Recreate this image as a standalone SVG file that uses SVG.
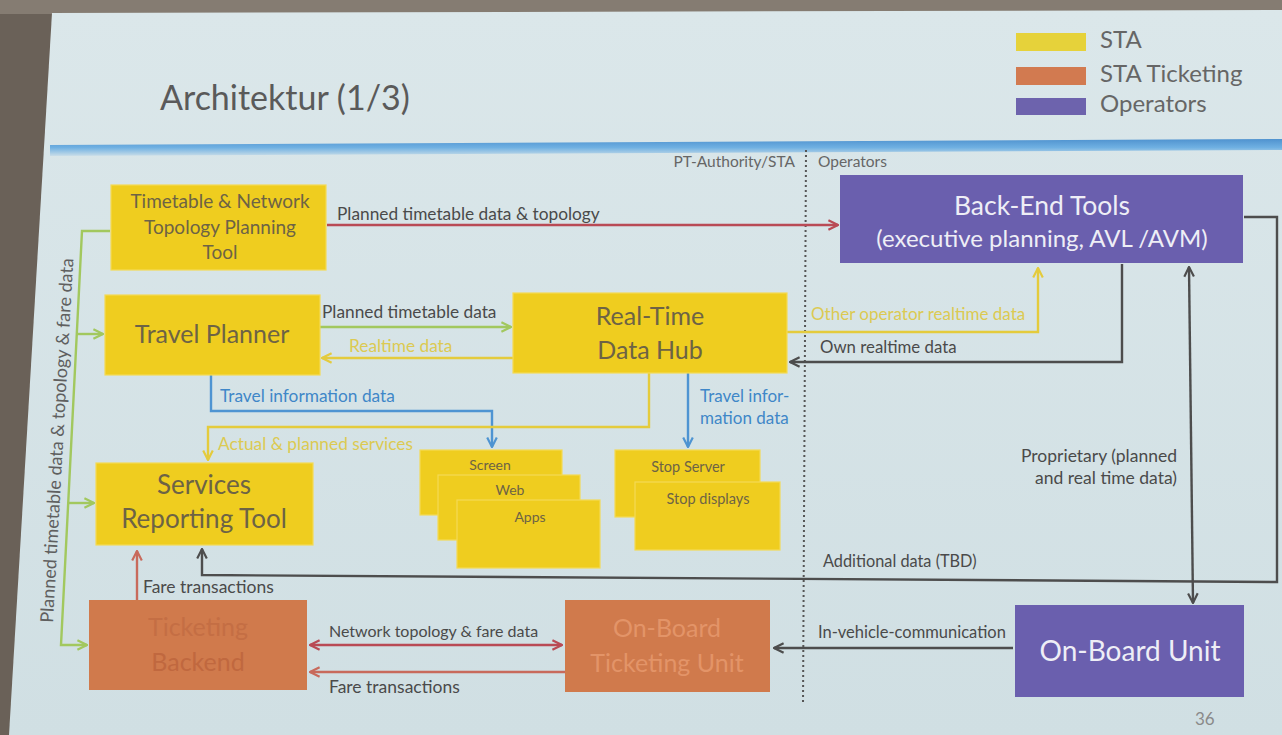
<svg xmlns="http://www.w3.org/2000/svg" width="1282" height="735" viewBox="0 0 1282 735">
<style>
  text { font-family: Lato, "Open Sans", "Liberation Sans", sans-serif; }
  .y { fill: #efcd1f; stroke: #f4da55; stroke-width: 1.2; }
  .o { fill: #d07a4c; }
  .p { fill: #6a5fae; }
  .ty { fill: #6d6345; text-anchor: middle; }
  .tp { fill: #eeeef6; text-anchor: middle; }
  .lbl { font-size: 17.3px; fill: #4a4a4a; }
  .ln { fill: none; stroke-width: 2.4; }
  .red { stroke: #b94a55; }
  .grn { stroke: #a2c85e; }
  .yel { stroke: #e4cb3c; }
  .blu { stroke: #4e94d2; }
  .drk { stroke: #4d4d4d; }
  .sal { stroke: #c86a5c; }
</style>
<defs>
  <linearGradient id="bg" x1="0" y1="0" x2="0" y2="1">
    <stop offset="0" stop-color="#dbe7ea"/>
    <stop offset="1" stop-color="#d0dfe3"/>
  </linearGradient>
  <linearGradient id="bl" x1="0" y1="0" x2="0" y2="1">
    <stop offset="0" stop-color="#4f92cf"/>
    <stop offset="0.5" stop-color="#6fb0e2"/>
    <stop offset="1" stop-color="#c9dde8"/>
  </linearGradient>
  <marker id="m-red" viewBox="0 0 10 10" refX="9" refY="5" markerWidth="12" markerHeight="12" markerUnits="userSpaceOnUse" orient="auto-start-reverse"><path d="M1,1 L9,5 L1,9" fill="none" stroke="#b94a55" stroke-width="1.8"/></marker>
  <marker id="m-grn" viewBox="0 0 10 10" refX="9" refY="5" markerWidth="12" markerHeight="12" markerUnits="userSpaceOnUse" orient="auto-start-reverse"><path d="M1,1 L9,5 L1,9" fill="none" stroke="#a2c85e" stroke-width="1.8"/></marker>
  <marker id="m-yel" viewBox="0 0 10 10" refX="9" refY="5" markerWidth="12" markerHeight="12" markerUnits="userSpaceOnUse" orient="auto-start-reverse"><path d="M1,1 L9,5 L1,9" fill="none" stroke="#e4cb3c" stroke-width="1.8"/></marker>
  <marker id="m-blu" viewBox="0 0 10 10" refX="9" refY="5" markerWidth="12" markerHeight="12" markerUnits="userSpaceOnUse" orient="auto-start-reverse"><path d="M1,1 L9,5 L1,9" fill="none" stroke="#4e94d2" stroke-width="1.8"/></marker>
  <marker id="m-drk" viewBox="0 0 10 10" refX="9" refY="5" markerWidth="12" markerHeight="12" markerUnits="userSpaceOnUse" orient="auto-start-reverse"><path d="M1,1 L9,5 L1,9" fill="none" stroke="#4d4d4d" stroke-width="1.8"/></marker>
  <marker id="m-sal" viewBox="0 0 10 10" refX="9" refY="5" markerWidth="12" markerHeight="12" markerUnits="userSpaceOnUse" orient="auto-start-reverse"><path d="M1,1 L9,5 L1,9" fill="none" stroke="#c86a5c" stroke-width="1.8"/></marker>
</defs>

<!-- photo surroundings and slide -->
<rect x="0" y="0" width="1282" height="735" fill="#6a6158"/>
<rect x="0" y="0" width="1282" height="14" fill="#857c72"/>
<polygon points="52,13 1282,10 1282,735 9,735" fill="url(#bg)"/>
<polygon points="50,145 1282,139 1282,150 50,156" fill="url(#bl)"/>

<!-- title and legend -->
<g id="title">
  <text x="160" y="110" font-size="34" fill="#5a5a5a">Architektur (1/3)</text>
</g>
<g id="legend">
  <rect x="1016" y="33" width="70" height="18" fill="#e6d23a"/>
  <rect x="1016" y="67" width="70" height="18" fill="#d27a50"/>
  <rect x="1016" y="98" width="70" height="17" fill="#6d63ad"/>
  <text x="1100" y="48" font-size="24" fill="#666">STA</text>
  <text x="1100" y="82" font-size="24" fill="#666">STA Ticketing</text>
  <text x="1100" y="112" font-size="24" fill="#666">Operators</text>
</g>

<!-- domain separator -->
<g id="separator">
  <line x1="806" y1="150" x2="803" y2="705" stroke="#555" stroke-width="2" stroke-dasharray="2,3"/>
  <text x="795" y="167" font-size="15.5" fill="#666" text-anchor="end">PT-Authority/STA</text>
  <text x="818" y="167" font-size="15.5" fill="#666">Operators</text>
</g>

<!-- connectors -->
<g id="connectors">
  <path class="ln red" d="M327,225 L838,225" marker-end="url(#m-red)"/>
  <path class="ln grn" d="M110,231 L82,231 L61,645 L87,645" marker-end="url(#m-grn)"/>
  <path class="ln grn" d="M76.8,334 L103,334" marker-end="url(#m-grn)"/>
  <path class="ln grn" d="M68.2,503 L94,503" marker-end="url(#m-grn)"/>
  <path class="ln grn" d="M320,327 L511,327" marker-end="url(#m-grn)"/>
  <path class="ln yel" d="M513,358 L322,358" marker-end="url(#m-yel)"/>
  <path class="ln blu" d="M211,375 L211,411 L492,411 L492,447" marker-end="url(#m-blu)"/>
  <path class="ln yel" d="M649,373 L649,427 L208,427 L208,460" marker-end="url(#m-yel)"/>
  <path class="ln blu" d="M688,373 L688,447" marker-end="url(#m-blu)"/>
  <path class="ln yel" d="M787,332 L1038,332 L1038,268" marker-end="url(#m-yel)"/>
  <path class="ln drk" d="M1122,264 L1122,362 L790,362" marker-end="url(#m-drk)"/>
  <path class="ln drk" d="M1189,267 L1193,603" marker-start="url(#m-drk)" marker-end="url(#m-drk)"/>
  <path class="ln drk" d="M1244,217 L1277,217 L1277,582 L202,575 L202,549" marker-end="url(#m-drk)"/>
  <path class="ln drk" d="M1013,648 L774,648" marker-end="url(#m-drk)"/>
  <path class="ln sal" d="M137,600 L137,551" marker-end="url(#m-sal)"/>
  <path class="ln red" d="M310,645 L562,645" marker-start="url(#m-red)" marker-end="url(#m-red)"/>
  <path class="ln sal" d="M565,672 L310,672" marker-end="url(#m-sal)"/>

  <g class="lbl">
    <text x="337" y="220">Planned timetable data &amp; topology</text>
    <text x="322" y="318">Planned timetable data</text>
    <text x="349" y="352" fill="#dcca52">Realtime data</text>
    <text x="220" y="402" fill="#3f87c8">Travel information data</text>
    <text x="218" y="450" fill="#dcca52">Actual &amp; planned services</text>
    <text x="700" y="402" fill="#3f87c8" font-size="17">Travel infor-</text>
    <text x="700" y="424" fill="#3f87c8" font-size="17">mation data</text>
    <text x="811" y="320" fill="#dcca52" font-size="17">Other operator realtime data</text>
    <text x="820" y="353" font-size="16.8">Own realtime data</text>
    <text x="1177" y="462" text-anchor="end" font-size="17.5">Proprietary (planned</text>
    <text x="1177" y="484" text-anchor="end" font-size="17.5">and real time data)</text>
    <text x="823" y="567" font-size="16.3">Additional data (TBD)</text>
    <text x="143" y="593" font-size="17.5">Fare transactions</text>
    <text x="329" y="637" font-size="16">Network topology &amp; fare data</text>
    <text x="329" y="693" font-size="17.5">Fare transactions</text>
    <text x="818" y="638" font-size="16.5">In-vehicle-communication</text>
  </g>
  <text transform="translate(53,623) rotate(-86.8)" font-size="18" fill="#5f5f5f">Planned timetable data &amp; topology &amp; fare data</text>
</g>

<!-- nodes -->
<g id="timetable-tool">
  <rect class="y" x="111" y="185" width="215" height="85"/>
  <text class="ty" x="220" y="208" font-size="19">Timetable &amp; Network</text>
  <text class="ty" x="220" y="234" font-size="19">Topology Planning</text>
  <text class="ty" x="220" y="259" font-size="19">Tool</text>
</g>
<g id="travel-planner">
  <rect class="y" x="105" y="295" width="215" height="80"/>
  <text class="ty" x="212" y="343" font-size="25">Travel Planner</text>
</g>
<g id="realtime-hub">
  <rect class="y" x="513" y="293" width="274" height="80"/>
  <text class="ty" x="650" y="325" font-size="25">Real-Time</text>
  <text class="ty" x="650" y="359" font-size="25">Data Hub</text>
</g>
<g id="services-reporting">
  <rect class="y" x="96" y="463" width="217" height="82"/>
  <text class="ty" x="204" y="494" font-size="26">Services</text>
  <text class="ty" x="204" y="528" font-size="26">Reporting Tool</text>
</g>
<g id="screen-web-apps">
  <rect class="y" x="420" y="450" width="142" height="65"/>
  <text class="ty" x="490" y="470" font-size="14">Screen</text>
  <rect class="y" x="438" y="475" width="142" height="65"/>
  <text class="ty" x="510" y="495" font-size="14">Web</text>
  <rect class="y" x="457" y="500" width="143" height="68"/>
  <text class="ty" x="530" y="522" font-size="14">Apps</text>
</g>
<g id="stop-server-displays">
  <rect class="y" x="615" y="450" width="145" height="67"/>
  <text class="ty" x="688" y="472" font-size="14.5">Stop Server</text>
  <rect class="y" x="635" y="482" width="145" height="68"/>
  <text class="ty" x="708" y="504" font-size="14.5">Stop displays</text>
</g>
<g id="ticketing-backend">
  <rect class="o" x="89" y="600" width="218" height="90"/>
  <text x="198" y="636" font-size="25" fill="#c46e44" text-anchor="middle">Ticketing</text>
  <text x="198" y="671" font-size="25" fill="#c0683f" text-anchor="middle">Backend</text>
</g>
<g id="onboard-ticketing">
  <rect class="o" x="565" y="600" width="205" height="92"/>
  <text x="667" y="637" font-size="25" fill="#e39468" text-anchor="middle">On-Board</text>
  <text x="667" y="672" font-size="25" fill="#e39468" text-anchor="middle">Ticketing Unit</text>
</g>
<g id="backend-tools">
  <rect class="p" x="840" y="175" width="403" height="88"/>
  <text class="tp" x="1042" y="215" font-size="26.5">Back-End Tools</text>
  <text class="tp" x="1042" y="247" font-size="24">(executive planning, AVL /AVM)</text>
</g>
<g id="onboard-unit">
  <rect class="p" x="1015" y="605" width="229" height="92"/>
  <text class="tp" x="1130" y="661" font-size="28">On-Board Unit</text>
</g>
<text x="1195" y="725" font-size="17" fill="#8a8a8a">36</text>
</svg>
